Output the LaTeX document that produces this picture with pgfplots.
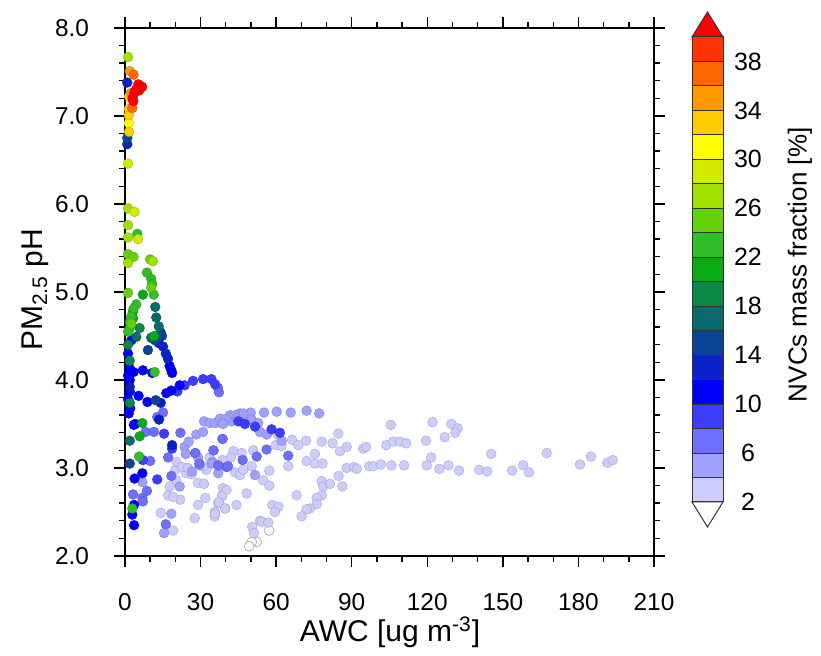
\documentclass[border=0pt]{standalone}
\usepackage{fontspec}
\setmainfont{Liberation Sans}
\usepackage{pgfplots}
\pgfplotsset{compat=1.18}

% colour levels of NVCs mass fraction, 2 % steps
\definecolor{c0}{HTML}{FFFFFF}
\definecolor{c1}{HTML}{CCCCFF}
\definecolor{c2}{HTML}{A0A0FF}
\definecolor{c3}{HTML}{6E6EFF}
\definecolor{c4}{HTML}{3C3CFF}
\definecolor{c5}{HTML}{0000FF}
\definecolor{c6}{HTML}{0A22C8}
\definecolor{c7}{HTML}{0A4496}
\definecolor{c8}{HTML}{0A6A6A}
\definecolor{c9}{HTML}{0A8846}
\definecolor{c10}{HTML}{0AAA14}
\definecolor{c11}{HTML}{32BE28}
\definecolor{c12}{HTML}{64D20A}
\definecolor{c13}{HTML}{A0E100}
\definecolor{c14}{HTML}{D2EB00}
\definecolor{c15}{HTML}{FFFF00}
\definecolor{c16}{HTML}{FFCC00}
\definecolor{c17}{HTML}{FF9900}
\definecolor{c18}{HTML}{FF6600}
\definecolor{c19}{HTML}{FF3300}
\definecolor{c20}{HTML}{FF0000}

\pgfplotsset{
  pt/.style={only marks, mark=*, mark size=2.45pt,
    mark options={fill=#1, draw=#1!80!black, line width=0.2pt}},
  box/.style={fill=#1, draw=black!80, line width=0.5pt},
}

\begin{document}
\begin{tikzpicture}
\path[use as bounding box] (-62.5pt,-50pt) rectangle (348pt,278pt);

\begin{axis}[
    at={(0,0)}, anchor=south west,
    scale only axis,
    width=264.5pt, height=264pt,
    xmin=0, xmax=210, ymin=2, ymax=8,
    xtick={0,30,...,210}, ytick={2,3,...,8},
    minor x tick num=2, minor y tick num=4,
    tick align=outside,
    major tick length=5.5pt, minor tick length=3pt,
    axis line style={line width=0.9pt},
    every tick/.style={black, line width=0.7pt},
    tick label style={font=\fontsize{12.2}{13}\selectfont},
    /pgf/number format/assume math mode=true,
    yticklabel style={/pgf/number format/.cd, fixed, fixed zerofill, precision=1, /tikz/.cd,
        anchor=center, xshift=-21pt},
    xticklabel style={anchor=center, yshift=-17.5pt},
    clip=false,
]
% <2 %
\addplot[pt=c0, mark options={fill=white, draw=black!30}] coordinates {
(57.2,2.29) (52.3,2.16) (50.3,2.16) (49.3,2.11)};
% 2-4 %
\addplot[pt=c1] coordinates {
(19.1,2.29) (14.2,2.49) (21.9,2.64) (17.1,2.69) (19.1,2.67) (17.7,2.79) (20.3,2.86)
(24.3,2.94) (32.3,2.98) (29.0,2.83) (31.4,2.82) (27.7,2.43) (29.0,2.58) (31.9,2.66)
(35.6,2.50) (35.6,2.45) (36.9,2.60) (39.8,2.54) (38.5,2.68) (38.9,2.77) (20.0,2.98)
(20.4,3.07) (36.9,3.03) (38.8,3.09) (66.3,3.32) (60.5,3.38) (59.9,3.26) (62.2,3.25)
(43.0,3.19) (46.3,3.17) (50.9,3.20) (43.7,2.95) (45.7,2.92) (47.0,2.98) (50.3,3.02)
(54.9,2.86) (57.3,2.97) (57.3,2.80) (64.8,3.02) (68.8,3.26) (71.9,3.31) (72.1,3.08)
(75.4,3.16) (75.4,3.05) (78.1,3.30) (78.4,3.05) (82.4,3.28) (84.7,3.39) (85.3,3.19)
(88.0,3.24) (88.0,3.00) (84.8,2.91) (78.1,2.85) (78.7,2.79) (81.4,2.82) (86.3,2.79)
(78.1,2.69) (76.1,2.66) (76.1,2.59) (73.4,2.54) (72.1,2.53) (70.1,2.45) (68.1,2.69)
(48.3,2.71) (40.3,2.75) (38.4,2.68) (37.3,2.61) (39.7,2.54) (35.7,2.48) (58.5,2.58)
(60.9,2.56) (59.5,2.50) (53.6,2.40) (54.3,2.39) (56.9,2.38) (50.5,2.33) (51.2,2.26)
(44.3,2.58) (90.9,3.01) (92.0,2.99) (94.6,3.22) (95.7,3.24) (97.0,3.02) (98.6,3.02)
(101.6,3.04) (105.5,3.49) (103.8,3.26) (106.5,3.30) (109.2,3.30) (111.6,3.28)
(105.8,3.03) (110.8,3.03) (119.5,3.31) (122.1,3.52) (121.5,3.12) (119.8,3.03)
(124.8,2.99) (128.4,3.03) (126.9,3.35) (129.6,3.50) (132.1,3.45) (131.1,3.40)
(132.6,2.97) (140.6,2.98) (143.8,2.96) (145.4,3.16) (153.7,2.97) (158.1,3.03)
(160.4,2.95) (167.4,3.17) (180.6,3.04) (185.0,3.13) (191.5,3.06) (193.6,3.09)
(22.7,3.01) (25.0,3.00) (26.5,2.93) (33.6,3.12) (42.0,3.12) (31.0,3.02)};
% 4-6 %
\addplot[pt=c2] coordinates {
(6.9,2.84) (15.5,2.26) (18.4,2.48) (21.7,2.79) (26.6,2.96) (29.6,3.03) (23.7,3.24)
(24.1,3.16) (25.3,3.30) (28.0,3.17) (29.0,3.12) (28.3,3.38) (31.0,3.41) (31.4,3.53)
(33.6,3.51) (38.6,3.33) (35.2,3.20) (34.7,3.07) (34.4,3.05) (37.0,2.94) (35.7,3.51)
(37.7,3.56) (38.4,3.51) (41.7,3.60) (42.3,3.53) (43.7,3.60) (45.7,3.62) (46.7,3.60)
(48.3,3.58) (49.9,3.63) (50.3,3.55) (52.9,3.51) (53.6,3.41) (55.2,3.63) (56.3,3.38)
(60.2,3.64) (62.2,3.31) (65.8,3.63) (72.1,3.65) (77.1,3.62) (51.6,2.92) (40.0,3.56)
(44.5,3.57) (47.0,3.62) (39.0,3.50)};
% 6-8 %
\addplot[pt=c3] coordinates {
(36.9,3.91) (37.3,3.86) (12.8,3.58) (15.1,3.63) (8.2,3.41) (11.5,3.41) (10.0,3.08)
(17.1,3.12) (18.4,2.91) (8.7,2.74) (3.2,2.70) (6.9,2.66) (16.2,2.36) (38.8,3.33)
(35.1,3.20) (56.2,3.21) (52.3,3.13) (46.7,3.09) (37.0,3.03) (40.3,3.01) (64.8,3.14)
(40.9,3.02) (7.1,2.62) (27.8,3.17) (29.5,3.05) (22.0,3.40)};
% 8-10 %
\addplot[pt=c4] coordinates {
(20.8,3.87) (23.7,3.94) (27.0,3.99) (31.0,4.01) (34.3,4.01) (35.8,3.95) (15.5,3.39)
(18.7,3.22) (7.1,3.09) (12.8,2.87) (45.0,3.53) (47.6,3.50) (51.6,3.47) (58.2,3.44)
(61.5,3.40)};
% 10-12 %
\addplot[pt=c5] coordinates {
(17.7,4.16) (18.4,4.11) (18.7,4.08) (1.9,4.13) (3.4,4.09) (7.1,4.11) (10.8,4.08)
(2.5,4.45) (1.9,4.00) (1.9,3.87) (5.4,3.82) (8.9,3.75) (16.4,3.85) (18.4,3.88)
(21.7,3.94) (2.1,3.68) (4.1,3.50) (3.5,3.49) (6.9,2.94) (3.8,2.88) (3.6,2.58)
(2.9,2.47) (3.6,2.35) (1.2,4.30) (1.2,4.05) (1.5,3.62) (1.2,3.78)};
% 12-14 %
\addplot[pt=c6] coordinates {
(13.4,4.42) (15.1,4.38) (16.2,4.30) (17.1,4.24) (1.9,3.92) (14.2,3.74) (13.5,3.55)
(18.7,3.26) (0.9,6.68) (0.9,7.38)};
% 14-16 %
\addplot[pt=c7] coordinates {
(14.2,4.54) (14.7,4.50) (11.1,4.47) (12.0,4.45) (9.1,4.34) (12.2,3.77) (1.9,3.05)
(0.9,6.75)};
% 16-18 %
\addplot[pt=c8] coordinates {
(12.0,4.83) (12.4,4.71) (13.4,4.61) (4.5,4.49) (10.4,4.48) (1.9,3.31)};
% 18-20 %
\addplot[pt=c9] coordinates {
(5.8,4.59) (1.9,4.22) (1.9,3.74) (1.2,4.40)};
% 20-22 %
\addplot[pt=c10] coordinates {
(7.1,4.97) (3.2,4.78) (3.2,4.70) (11.6,4.50) (6.9,3.51) (5.8,3.36)};
% 22-24 %
\addplot[pt=c11] coordinates {
(4.9,5.66) (8.7,5.22) (10.4,5.15) (10.8,5.09) (11.4,4.97) (4.5,4.86) (3.4,4.81)
(2.5,4.72) (1.9,4.66) (1.9,4.59) (1.2,4.55) (11.8,4.09) (5.6,3.13) (2.9,2.54)};
% 24-26 %
\addplot[pt=c12] coordinates {
(1.2,5.43) (3.4,5.40) (10.0,5.37) (10.4,5.05) (1.2,4.99) (2.5,4.64)};
% 26-28 %
\addplot[pt=c13] coordinates {
(1.2,7.67) (1.2,5.95) (1.2,5.76) (1.2,5.62) (1.2,5.33) (11.1,5.35)};
% 28-30 %
\addplot[pt=c14] coordinates {
(1.2,6.46) (3.8,5.91) (5.2,5.60)};
% 30-32 %
\addplot[pt=c15] coordinates {(1.5,6.92)};
% 32-34 %
\addplot[pt=c16] coordinates {(1.6,7.22) (1.5,7.08) (1.5,7.01) (1.6,6.82)};
% 34-36 %
\addplot[pt=c17] coordinates {(1.9,7.51) (2.3,7.26)};
% 36-38 %
\addplot[pt=c18] coordinates {(3.4,7.47) (2.9,7.09)};
% >40 %
\addplot[pt=c20] coordinates {
(5.3,7.36) (6.2,7.34) (6.8,7.33) (5.6,7.29) (4.4,7.30) (3.6,7.26) (3.0,7.20) (3.3,7.17)};

\node[rotate=90, font=\fontsize{15}{15}\selectfont] at (axis description cs:-0.17,0.504) {PM\textsubscript{2.5} pH};
\node[font=\fontsize{15}{15}\selectfont] at (axis description cs:0.501,-0.144) {AWC [ug m\textsuperscript{-3}]};
\end{axis}

% colour bar
\begin{axis}[
    at={(283.5pt,27pt)}, anchor=south west,
    scale only axis,
    width=15.5pt, height=232.5pt,
    xmin=0, xmax=1, ymin=2, ymax=40,
    axis line style={draw=none},
    xtick=\empty,
    ytick={2,6,...,38},
    yticklabel pos=right,
    major tick length=0pt,
    tick label style={font=\fontsize{12.5}{13}\selectfont},
    /pgf/number format/assume math mode=true,
    yticklabel style={anchor=center, xshift=12.5pt},
    clip=false,
]
\addplot[box=c20] coordinates {(0,40) (1,40) (0.5,42.04)} -- cycle;
\addplot[box=c0] coordinates {(0,2) (1,2) (0.5,-0.04)} -- cycle;
\addplot[box=c1] coordinates {(0,2) (1,2) (1,4) (0,4)} -- cycle;
\addplot[box=c2] coordinates {(0,4) (1,4) (1,6) (0,6)} -- cycle;
\addplot[box=c3] coordinates {(0,6) (1,6) (1,8) (0,8)} -- cycle;
\addplot[box=c4] coordinates {(0,8) (1,8) (1,10) (0,10)} -- cycle;
\addplot[box=c5] coordinates {(0,10) (1,10) (1,12) (0,12)} -- cycle;
\addplot[box=c6] coordinates {(0,12) (1,12) (1,14) (0,14)} -- cycle;
\addplot[box=c7] coordinates {(0,14) (1,14) (1,16) (0,16)} -- cycle;
\addplot[box=c8] coordinates {(0,16) (1,16) (1,18) (0,18)} -- cycle;
\addplot[box=c9] coordinates {(0,18) (1,18) (1,20) (0,20)} -- cycle;
\addplot[box=c10] coordinates {(0,20) (1,20) (1,22) (0,22)} -- cycle;
\addplot[box=c11] coordinates {(0,22) (1,22) (1,24) (0,24)} -- cycle;
\addplot[box=c12] coordinates {(0,24) (1,24) (1,26) (0,26)} -- cycle;
\addplot[box=c13] coordinates {(0,26) (1,26) (1,28) (0,28)} -- cycle;
\addplot[box=c14] coordinates {(0,28) (1,28) (1,30) (0,30)} -- cycle;
\addplot[box=c15] coordinates {(0,30) (1,30) (1,32) (0,32)} -- cycle;
\addplot[box=c16] coordinates {(0,32) (1,32) (1,34) (0,34)} -- cycle;
\addplot[box=c17] coordinates {(0,34) (1,34) (1,36) (0,36)} -- cycle;
\addplot[box=c18] coordinates {(0,36) (1,36) (1,38) (0,38)} -- cycle;
\addplot[box=c19] coordinates {(0,38) (1,38) (1,40) (0,40)} -- cycle;
\node[rotate=90, font=\fontsize{13}{13}\selectfont] at (axis description cs:3.48,0.51) {NVCs mass fraction [\%]};
\end{axis}
\end{tikzpicture}
\end{document}
